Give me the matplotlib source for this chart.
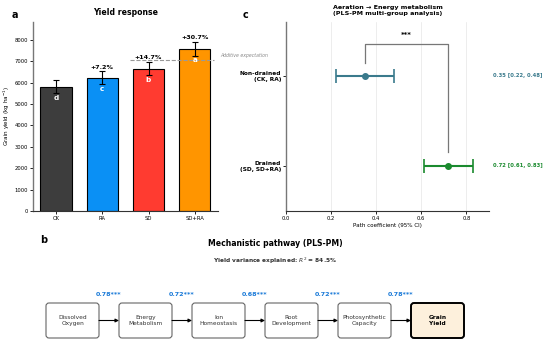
import matplotlib.pyplot as plt
from matplotlib.patches import FancyBboxPatch

# yield data (panel a)
treatments = ['CK', 'RA', 'SD', 'SD+RA']
yield_mean = [5800, 6220, 6650, 7580]
yield_err = [300, 300, 320, 320]
sig_letters = ['d', 'c', 'b', 'a']
pct_labels = ['', '+7.2%', '+14.7%', '+30.7%']
bar_colors = ['#3d3d3d', '#0a90f5', '#ff3b30', '#ff9500']
additive_expect = 7070

# path coefficients (panel c)
groups = ['Drained\n(SD, SD+RA)', 'Non-drained\n(CK, RA)']
coef = [0.72, 0.35]
ci_low = [0.61, 0.22]
ci_high = [0.83, 0.48]
group_colors = ['#1a8a2e', '#3a7a8c']

# pathway (panel b)
nodes = ['Dissolved\nOxygen', 'Energy\nMetabolism', 'Ion\nHomeostasis',
         'Root\nDevelopment', 'Photosynthetic\nCapacity', 'Grain\nYield']
path_coefs = ['0.78***', '0.72***', '0.68***', '0.72***', '0.78***']
r2 = 84.5

fig = plt.figure(figsize=(5.5, 3.43), dpi=100)

# ---- panel b (drawn in pixel coords) ----
axb = fig.add_axes([0, 0, 1, 1], zorder=0)
axb.set_xlim(0, 550)
axb.set_ylim(343, 0)
axb.axis('off')
box_w, box_h = 53, 35
box_top = 303
x0, pitch = 46, 73
for i, name in enumerate(nodes):
    bx = x0 + i * pitch
    last = i == len(nodes) - 1
    axb.add_patch(FancyBboxPatch((bx, box_top), box_w, box_h,
                                 boxstyle='round,pad=0,rounding_size=3',
                                 fc='#fdf0dc' if last else 'white',
                                 ec='black' if last else '#666666',
                                 lw=1.4 if last else 0.8))
    axb.text(bx + box_w / 2, box_top + box_h / 2, name, ha='center', va='center',
             fontsize=4.2, fontweight='bold' if last else 'normal',
             color='black' if last else '#333333', linespacing=1.2)
    if not last:
        axb.annotate('', xy=(bx + pitch, box_top + box_h / 2),
                     xytext=(bx + box_w, box_top + box_h / 2),
                     arrowprops=dict(arrowstyle='-|>', color='black', lw=0.8,
                                     mutation_scale=5, shrinkA=0, shrinkB=0))
        axb.text(bx + box_w + (pitch - box_w) / 2, 295, path_coefs[i], ha='center',
                 va='center', fontsize=4.6, fontweight='bold', color='#1a7ad8')
axb.text(275, 243, 'Mechanistic pathway (PLS-PM)', ha='center', va='center',
         fontsize=5.6, fontweight='bold')
axb.text(275, 261, r'Yield variance explained: $R^2$ = ' + f'{r2}%', ha='center',
         va='center', fontsize=4.2, fontweight='bold', color='#333333')

# ---- panel a ----
axa = fig.add_axes([0.06, 0.385, 0.336, 0.551], zorder=1)
xs = list(range(len(treatments)))
axa.bar(xs, yield_mean, width=0.68, color=bar_colors, edgecolor='black', lw=0.8)
axa.errorbar(xs, yield_mean, yerr=yield_err, fmt='none', ecolor='black',
             elinewidth=0.8, capsize=2, capthick=0.8)
for x, m, e, let, p in zip(xs, yield_mean, yield_err, sig_letters, pct_labels):
    axa.text(x, m - 530, let, ha='center', va='center', color='white',
             fontsize=5.2, fontweight='bold')
    if p:
        axa.text(x, m + e + 80, p, ha='center', va='bottom', fontsize=4.6,
                 fontweight='bold')
axa.plot([1.6, 3.42], [additive_expect, additive_expect], ls='--', color='#999999', lw=0.8)
axa.text(3.55, additive_expect + 180, 'Additive expectation', fontsize=3.3,
         style='italic', color='#888888', va='center', clip_on=False)
axa.set_xlim(-0.5, 3.5)
axa.set_ylim(0, 8830)
axa.set_xticks(xs)
axa.set_xticklabels(treatments)
axa.set_yticks(range(0, 8001, 1000))
axa.set_ylabel('Grain yield (kg ha$^{-1}$)', fontsize=4.1, labelpad=2)
axa.set_title('Yield response', fontsize=5.6, fontweight='bold', pad=5)
axa.tick_params(labelsize=3.8, length=2, width=0.6, pad=1.5)
for s in ['top', 'right']:
    axa.spines[s].set_visible(False)
axa.spines['left'].set_color('#777777')
axa.spines['left'].set_linewidth(1.0)
axa.spines['bottom'].set_color('#333333')
axa.spines['bottom'].set_linewidth(0.8)

# ---- panel c ----
axc = fig.add_axes([0.52, 0.385, 0.369, 0.551], zorder=1)
ys = [0, 1]
for y, c, lo, hi, col in zip(ys, coef, ci_low, ci_high, group_colors):
    axc.errorbar(c, y, xerr=[[c - lo], [hi - c]], fmt='o', color=col, ms=4,
                 elinewidth=1.5, capsize=5, capthick=1.2)
    axc.text(1.02, y, f'{c:.2f} [{lo:.2f}, {hi:.2f}]', transform=axc.get_yaxis_transform(),
             color=col, fontsize=3.8, fontweight='bold', va='center', ha='left')
# significance bracket
axc.plot([coef[1], coef[1], coef[0], coef[0]], [1.14, 1.35, 1.35, 0.15],
         color='#777777', lw=0.9)
axc.text((coef[0] + coef[1]) / 2, 1.45, '***', ha='center', va='center',
         fontsize=5, fontweight='bold')
axc.set_xlim(0, 0.9)
axc.set_ylim(-0.5, 1.6)
axc.set_xticks([0, 0.2, 0.4, 0.6, 0.8])
axc.set_yticks(ys)
axc.set_yticklabels(groups, fontweight='bold', fontsize=4.2)
axc.tick_params(axis='x', labelsize=3.8, length=2, width=0.6, pad=1.5)
axc.tick_params(axis='y', length=2, width=0.6, pad=1.5)
axc.grid(axis='x', color='#e6e6e6', lw=0.5)
axc.set_axisbelow(True)
axc.set_xlabel('Path coefficient (95% CI)', fontsize=4.1, labelpad=1.5)
axc.set_title('Aeration \u2192 Energy metabolism\n(PLS-PM multi-group analysis)',
              fontsize=4.6, fontweight='bold', pad=5)
for s in ['top', 'right']:
    axc.spines[s].set_visible(False)
axc.spines['left'].set_color('#777777')
axc.spines['left'].set_linewidth(1.0)
axc.spines['bottom'].set_color('#333333')
axc.spines['bottom'].set_linewidth(0.8)

fig.text(12 / 550, 1 - 15 / 343, 'a', fontsize=7, fontweight='bold', va='center')
fig.text(243 / 550, 1 - 15 / 343, 'c', fontsize=7, fontweight='bold', va='center')
fig.text(40 / 550, 1 - 240 / 343, 'b', fontsize=7, fontweight='bold', va='center')

fig.savefig('out.png', dpi=100)
